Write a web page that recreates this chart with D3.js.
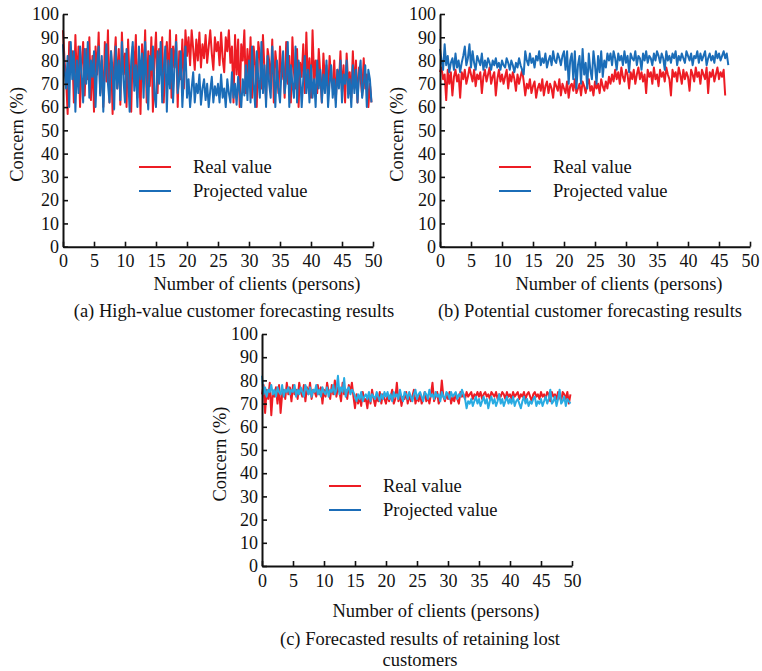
<!DOCTYPE html>
<html>
<head>
<meta charset="utf-8">
<script src="https://cdn.jsdelivr.net/npm/d3@7"></script>
<style>
body{margin:0;background:#fff;}
text{font-family:"Liberation Serif","Times New Roman",serif;fill:#111;}
</style>
</head>
<body>
<div id="chart"></div>
<script>

var yTicks = [0,10,20,30,40,50,60,70,80,90,100];
var xTicks = [0,5,10,15,20,25,30,35,40,45,50];
var xStep = 0.25; // clients between two samples
var seriesNames = ["Real value","Projected value"];

// (a) high-value customers
var realA = [93,80,72,57,88,75,84,62,91,70,86,60,78,88,65,85,72,90,63,82,
  58,86,74,92,66,80,60,88,71,93,62,84,57,79,90,68,85,61,92,74,
  83,60,89,70,58,86,76,91,64,81,57,87,72,93,62,84,69,90,58,80,
  92,66,85,74,90,62,80,88,70,93,64,86,77,91,60,84,72,89,68,93,
  82,90,78,93,85,76,89,80,92,77,87,81,91,79,86,93,83,76,90,84,
  88,78,92,81,75,90,84,93,79,86,62,91,74,89,60,87,80,93,66,85,
  72,90,64,86,78,60,88,82,68,91,76,63,85,80,70,89,62,84,77,66,
  86,72,80,64,88,70,82,62,90,75,68,85,60,79,73,87,66,92,70,81,
  64,93,72,80,66,85,74,62,83,70,78,65,82,72,68,80,63,76,70,84,
  66,78,62,83,70,75,64,84,68,80,62,77,72,65,81,68,74,60,70,62];
var projA = [87,76,68,82,60,88,72,84,58,80,66,86,74,62,85,70,88,64,80,73,
  84,60,78,86,65,82,58,75,87,70,62,84,76,59,86,68,80,63,88,72,
  62,85,74,58,80,88,67,78,60,86,72,83,64,88,70,59,82,76,86,65,
  60,84,70,88,62,76,86,58,80,68,85,62,78,88,66,72,84,60,74,86,
  64,72,60,68,75,62,70,66,74,61,68,72,63,70,60,67,73,62,69,65,
  70,62,74,64,68,60,72,66,62,75,64,70,61,73,66,60,72,65,78,63,
  80,62,86,70,60,84,72,64,88,66,78,60,82,70,64,86,74,60,80,68,
  62,76,84,66,72,88,60,78,70,64,86,62,80,74,60,72,82,66,76,62,
  78,64,72,60,80,68,76,62,74,66,80,60,70,78,64,72,60,76,68,80,
  62,74,70,80,64,72,60,78,66,76,62,74,80,64,70,78,60,76,72,62];

// (b) potential customers
var realB = [75,77,72,74,63,76,70,75,65,73,76,71,74,64,75,72,76,70,73,77,
  74,71,76,69,74,72,75,66,73,76,71,74,77,70,73,75,65,72,76,71,
  74,70,73,76,68,74,71,75,72,67,74,70,73,76,71,
  65,70,68,72,66,69,71,64,68,70,67,72,65,69,71,66,70,68,64,71,
  69,67,72,65,70,68,66,71,64,69,70,67,72,66,68,70,65,71,69,66,
  70,72,67,69,65,71,68,70,66,72,69,67,71,68,73,70,
  74,71,76,72,75,70,77,73,71,76,74,68,75,72,76,70,74,77,72,75,
  71,74,66,76,73,75,70,77,72,74,69,76,73,75,71,77,74,72,65,76,
  73,75,71,77,74,70,76,72,75,73,67,76,74,71,77,73,75,70,76,74,
  72,77,66,75,73,76,71,74,77,72,75,73,76,65];
var projB = [85,80,76,87,78,82,75,79,81,76,83,77,80,75,79,82,86,78,81,87,
  77,84,79,76,82,80,78,83,76,80,77,81,79,76,80,78,81,77,79,76,
  80,78,77,81,79,76,80,78,75,79,77,81,78,76,74,
  84,80,78,83,79,81,77,82,80,84,78,81,79,83,77,80,82,78,84,80,79,83,81,78,82,84,
  76,84,70,80,83,72,84,68,78,82,70,85,74,79,68,83,76,72,84,78,70,82,75,84,73,80,77,83,
  80,83,78,84,81,76,83,80,82,78,84,79,82,75,83,81,80,84,78,82,
  81,76,83,80,84,79,82,81,78,83,80,84,82,79,83,81,76,84,80,82,
  79,83,81,84,78,82,80,83,81,79,84,82,80,83,78,82,81,84,79,83,
  80,82,84,78,81,83,80,82,79,84,81,83,80,82,84,81,83,78];

// (c) retaining lost customers
var realC = [74,78,66,76,72,79,65,75,73,77,70,78,66,74,76,72,79,74,77,71,
  78,74,76,72,79,75,73,78,71,77,74,79,72,76,75,73,78,74,77,70,
  76,73,79,75,72,78,74,80,73,77,75,71,79,74,76,72,78,75,79,73,
  68,74,70,73,69,75,71,72,68,74,70,76,72,69,73,71,75,70,74,72,
  70,74,71,73,76,70,72,79,71,74,69,73,72,75,70,74,71,73,76,70,
  73,71,74,70,72,75,71,73,70,74,79,71,73,75,70,72,80,73,71,74,
  72,75,70,73,71,74,72,70,75,73,74,72,75,73,74,75,72,74,73,75,
  73,75,72,74,75,73,74,72,75,74,73,75,72,74,73,75,74,72,75,73,
  74,72,75,73,74,75,72,74,73,75,72,74,75,73,71,74,75,73,74,72,
  75,73,74,72,75,74,71,75,73,74,72,75,73,71,75,74,72,75,70,74];
var projC = [82,74,77,73,76,75,78,74,76,73,77,75,74,78,73,76,75,77,74,76,
  75,78,73,76,74,77,75,73,78,76,74,77,73,76,75,78,74,76,73,77,
  75,74,77,73,76,75,78,74,76,82,74,77,75,81,73,76,77,74,76,75,
  73,71,74,72,75,71,73,74,72,75,71,74,73,72,75,73,71,74,72,75,
  73,75,72,74,71,75,73,74,72,76,73,71,75,74,72,75,73,71,74,76,
  72,74,75,73,71,75,74,72,76,73,74,72,75,73,74,71,75,73,72,75,
  74,72,75,73,74,75,72,74,73,76,74,72,68,71,70,72,69,71,73,70,
  72,69,71,73,70,72,68,71,73,70,72,69,71,74,70,72,69,71,73,70,
  72,70,73,69,71,72,70,68,71,73,70,72,69,71,70,72,73,69,71,70,
  72,69,71,73,70,72,76,70,71,73,69,72,76,70,71,73,69,72,71,70];

var red = "#ED1C24", blue = "#1B6DB8", cyan = "#29ABE2";

var width = 762, height = 671;

var svg = d3.select("#chart").append("svg")
    .attr("width", width)
    .attr("height", height);

function drawPanel(p){
    var x = d3.scaleLinear().domain([0,50]).range([p.left, p.right]);
    var y = d3.scaleLinear().domain([0,100]).range([p.bottom, p.top]);
    var g = svg.append("g");

    var line = d3.line()
        .x(function(d,i){ return x(i*xStep); })
        .y(function(d){ return y(d); });

    // data lines
    g.append("path").datum(p.real)
        .attr("d", line).attr("fill","none")
        .attr("stroke", red).attr("stroke-width", 2)
        .attr("stroke-linejoin","round");
    g.append("path").datum(p.proj)
        .attr("d", line).attr("fill","none")
        .attr("stroke", p.projColor).attr("stroke-width", 2)
        .attr("stroke-linejoin","round");

    // axes
    var xa = g.append("g")
        .attr("transform","translate(0," + p.bottom + ")")
        .call(d3.axisBottom(x).tickValues(xTicks).tickSizeInner(-5).tickSizeOuter(0).tickPadding(8));
    var ya = g.append("g")
        .attr("transform","translate(" + p.left + ",0)")
        .call(d3.axisLeft(y).tickValues(yTicks).tickSizeInner(-5).tickSizeOuter(0).tickPadding(4));

    [xa, ya].forEach(function(a){
        a.attr("font-family", null);
        a.select(".domain").attr("stroke","#111").attr("stroke-width",2);
        a.selectAll(".tick line").attr("stroke","#111").attr("stroke-width",1.6);
        a.selectAll(".tick text")
            .style("font-family",'"Liberation Serif","Times New Roman",serif')
            .style("font-size","18px").attr("fill","#111");
    });

    // legend
    var leg = g.selectAll(".leg")
        .data(seriesNames)
      .enter().append("g")
        .attr("class","leg")
        .attr("transform", function(d,i){ return "translate(0," + (p.legY + i*24) + ")"; });
    leg.append("line")
        .attr("x1", p.legX).attr("x2", p.legX + 32)
        .attr("stroke", function(d,i){ return i ? blue : red; })
        .attr("stroke-width", 2);
    leg.append("text")
        .attr("x", p.legX + 54).attr("y", 6)
        .style("font-size","18.5px")
        .text(function(d){ return d; });

    // titles
    g.append("text")
        .attr("transform","translate(" + p.yTitleX + "," + ((p.top + p.bottom)/2 + 4) + ") rotate(-90)")
        .style("text-anchor","middle").style("font-size","18.5px")
        .text("Concern (%)");
    g.append("text")
        .attr("x", p.xTitleX).attr("y", p.bottom + p.xTitleGap)
        .style("text-anchor","middle").style("font-size","18.5px")
        .text("Number of clients (persons)");
    p.caption.forEach(function(c,i){
        g.append("text")
            .attr("x", p.capX).attr("y", p.capY + i*21)
            .style("text-anchor","middle").style("font-size","18.5px")
            .text(c);
    });
}

drawPanel({left:63, right:373, top:14, bottom:246.7, real:realA, proj:projA, projColor:blue,
    legX:139, legY:167, yTitleX:23, xTitleX:257, xTitleGap:43, capX:234, capY:317,
    caption:["(a) High-value customer forecasting results"]});
drawPanel({left:440, right:750, top:14, bottom:246.7, real:realB, proj:projB, projColor:blue,
    legX:499, legY:167, yTitleX:403, xTitleX:619, xTitleGap:43, capX:590, capY:317,
    caption:["(b) Potential customer forecasting results"]});
drawPanel({left:262, right:572, top:334, bottom:566, real:realC, proj:projC, projColor:cyan,
    legX:329, legY:486, yTitleX:226, xTitleX:436, xTitleGap:51, capX:420, capY:645,
    caption:["(c) Forecasted results of retaining lost","customers"]});

</script>
</body>
</html>
